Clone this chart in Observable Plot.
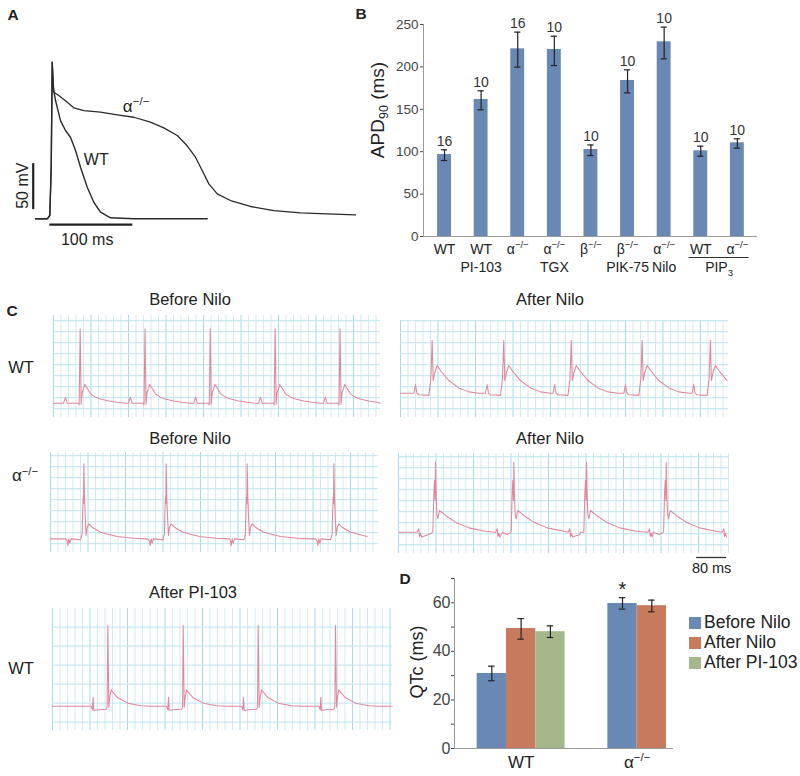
<!DOCTYPE html>
<html><head><meta charset="utf-8">
<script src="https://cdn.jsdelivr.net/npm/d3@7"></script>
<script src="https://cdn.jsdelivr.net/npm/@observablehq/plot@0.6"></script>
<style>
html,body{margin:0;padding:0;background:#fff;}
#fig{position:relative;width:800px;height:776px;overflow:hidden;font-family:"Liberation Sans",Arial,Helvetica,sans-serif;color:#222;background:#fff;}
.lbl{position:absolute;white-space:nowrap;line-height:1;transform:translate(-50%,-50%);}
.rot{transform:translate(-50%,-50%) rotate(-90deg);}
.sup{font-size:0.66em;position:relative;top:-0.55em;}
.sub{font-size:0.66em;position:relative;top:0.3em;}
.pane{position:absolute;}
.sw{position:absolute;width:12px;height:12px;}
</style></head><body><div id="fig"></div>
<script>
// ================= DATA =================
// Panel A: action potentials (time in ms from upstroke, membrane potential in mV)
const apTimeAlpha = [-17.2,-3.1,0,1.7,2.9,4.8,10.8,21.0,28.9,41.0,61.1,81.2,101.2,121.3,137.3,153.5,165.5,175.5,183.6,191.6,201.7,217.7,241.8,269.9,302.0,342.2,368.3];
const apVoltAlpha = [-80,-80,-76.4,-23.9,90.2,57.6,54.0,46.7,40.7,37.7,35.9,33.0,30.4,25.0,18.9,10.5,-0.6,-13.0,-27.5,-42.0,-52.8,-60.1,-66.6,-71.0,-73.5,-75.0,-75.7];
const apTimeWt = [-17.2,-3.1,0,1.7,2.9,4.1,6.9,12.9,18.9,24.9,31.0,37.0,45.1,53.0,61.1,73.1,101.2,189.6];
const apVoltWt = [-80,-80,-76.4,-23.9,90.2,63.0,48.6,26.8,16.0,8.7,-5.8,-23.9,-45.7,-62.0,-72.8,-78.9,-80,-80];
const apScaleMs = 100;
const apScaleMv = 50;

// Panel B: APD90 (ms)
const apdLine1 = ["WT","WT","α^{−/−}","α^{−/−}","β^{−/−}","β^{−/−}","α^{−/−}","WT","α^{−/−}"];
const apdLine2 = ["","PI-103","","TGX","","PIK-75","Nilo","",""];
const apdMean = [96.7,161.6,221.3,220.5,102.6,184.0,229.6,101.0,110.5];
const apdLow  = [89.6,149.4,199.7,201.6,95.5,169.4,209.5,94.7,104.2];
const apdHigh = [102.2,171.8,241.0,236.2,108.0,196.5,246.9,106.5,115.2];
const apdN = [16,10,16,10,10,10,10,10,10];
const apdPip3Label = "PIP_{3}";
const apdPip3Bars = [8, 9];

// Panel C: ECG beat shapes [ms from beat reference, units above baseline], beat times (ms), baselines
const ecgWtBeforeShape = [[-5.3,0],[0,0.55],[4.4,0],[33.8,0],[36.4,-0.15],[39.1,6.76],[41.8,-0.1],[44.4,1.0],[48,1.3],[51.6,1.7],[57,1.4],[66.7,0.85],[80,0.55],[93.3,0.39],[115,0.2],[137.8,0.09],[160,0]];
const ecgWtBeforeBeats = [32,205,379,552,725];
const ecgWtBeforeBase = 1.30;
const ecgWtAfterShape = [[-4.4,0],[0,0.79],[3.6,0],[8.9,-0.15],[35.6,-0.2],[40.9,1.3],[44.4,4.79],[47.1,1.15],[51.6,1.9],[57.8,2.52],[66.7,2.06],[88.9,1.15],[115.6,0.48],[142,0.12],[169,0]];
const ecgWtAfterBeats = [40,231,411,600,782];
const ecgWtAfterBase = 2.21;
const ecgKoBeforeShape = [[-48.9,0],[-44.4,-0.21],[-42.7,-0.61],[-40,0],[-37.3,-0.39],[-33.8,0],[-8.9,-0.09],[-4.4,0.45],[-3.6,2.1],[-1.8,3.8],[-0.9,3.2],[0,6.82],[1.8,3.8],[3.6,2.1],[6.2,0.3],[8.9,1.06],[13.3,1.36],[22.2,1.06],[44.4,0.6],[88.9,0.21],[133,0.06],[169,0]];
const ecgKoBeforeBeats = [88.9,308.4,524.4,755.6];
const ecgKoBeforeBase = 1.24;
const ecgKoAfterShape = [[-48.9,0],[-44.4,0.3],[-42.7,-0.39],[-40,-0.09],[-37.3,-0.45],[-17.8,-0.21],[-7.1,0],[-4.4,3.5],[-2.7,4.7],[-0.9,2.88],[0,6.36],[1.8,3.45],[3.6,1.67],[6.2,1.21],[10.7,1.97],[26.7,1.52],[53.3,0.91],[88.9,0.39],[133,0.09],[178,0]];
const ecgKoAfterBeats = [98.7,307.5,501.3,713.9,912];
const ecgKoAfterBase = 1.94;
const ecgPiShape = [[-44.4,0],[-40.9,-0.19],[-39.1,0.47],[-37.3,-0.23],[-26.7,-0.19],[-4.4,-0.16],[-1.8,-0.05],[0,4.25],[2.7,-0.05],[5.3,0.47],[8.9,0.86],[13.3,0.74],[26.7,0.44],[53.3,0.16],[88.9,0.02],[115.6,0]];
const ecgPiBeats = [147.5,348.5,548.5,754.7];
const ecgPiBase = 1.28;
const ecgScaleMs = 80;

// Panel D: QTc (ms)
const qtSeriesNames = ["Before Nilo","After Nilo","After PI-103"];
const qtGroupNames = ["WT","α^{−/−}"];
const qtGroup = ["WT","WT","WT","α^{−/−}","α^{−/−}"];
const qtSeries = ["Before Nilo","After Nilo","After PI-103","Before Nilo","After Nilo"];
const qtMean = [30.9,49.4,48.1,59.7,58.8];
const qtLow  = [27.9,45.0,45.7,57.4,56.3];
const qtHigh = [33.9,53.5,50.5,62.1,61.1];
const qtStar = ["","","","*",""];

// ================= RENDER =================
const FONT = '"Liberation Sans", Arial, Helvetica, sans-serif';
const fig = document.getElementById("fig");
const NS = "http://www.w3.org/2000/svg";

function place(node, left, top) {
  const d = document.createElement("div");
  d.className = "pane";
  d.style.left = left + "px"; d.style.top = top + "px";
  d.appendChild(node); fig.appendChild(d);
  richify(node);
  return d;
}
// turns "x^{sup}" / "x_{sub}" inside SVG texts into shifted tspans
function richify(root) {
  const found = [];
  const w = document.createTreeWalker(root, NodeFilter.SHOW_TEXT);
  while (w.nextNode()) if (/[\^_]\{/.test(w.currentNode.nodeValue)) found.push(w.currentNode);
  for (const tn of found) {
    const parent = tn.parentNode;
    const fs = parseFloat(getComputedStyle(parent).fontSize) || 12;
    const frag = document.createDocumentFragment();
    let shift = 0;
    for (const part of tn.nodeValue.split(/([\^_]\{[^}]*\})/)) {
      if (!part) continue;
      const m = part.match(/^([\^_])\{([^}]*)\}$/);
      const ts = document.createElementNS(NS, "tspan");
      const target = m ? (m[1] === "^" ? -0.42 * fs : 0.28 * fs) : 0;
      if (target !== shift) ts.setAttribute("dy", (target - shift).toFixed(2));
      shift = target;
      if (m) ts.setAttribute("font-size", (0.68 * fs).toFixed(2));
      ts.textContent = m ? m[2] : part;
      frag.appendChild(ts);
    }
    parent.replaceChild(frag, tn);
  }
}
function label(html, x, y, size, extra = "") {
  const d = document.createElement("div");
  d.className = "lbl " + extra;
  d.style.left = x + "px"; d.style.top = y + "px"; d.style.fontSize = size + "px";
  d.innerHTML = html; fig.appendChild(d);
}

// ---------- Panel A ----------
{
  const alpha = apTimeAlpha.map((t, i) => ({t, v: apVoltAlpha[i]}));
  const wt = apTimeWt.map((t, i) => ({t, v: apVoltWt[i]}));
  const svg = Plot.plot({
    width: 360, height: 260, margin: 0,
    x: {domain: [-59.4, 374.3], axis: null},
    y: {domain: [-125.3, 157.3], axis: null},
    style: {background: "transparent", fontFamily: FONT, fontSize: "16px", color: "#222", overflow: "visible"},
    marks: [
      Plot.line(alpha, {x: "t", y: "v", stroke: "#2a2a2a", strokeWidth: 1.3}),
      Plot.line(wt, {x: "t", y: "v", stroke: "#2a2a2a", strokeWidth: 1.4}),
      Plot.ruleX([-20], {y1: -70, y2: -70 + apScaleMv, stroke: "#222", strokeWidth: 2.2}),
      Plot.ruleY([-86.3], {x1: 0, x2: apScaleMs, stroke: "#222", strokeWidth: 2.2}),
      Plot.text([apScaleMv + " mV"], {x: -32, y: -44, rotate: -90, fontSize: 16, fill: "#222"}),
      Plot.text([apScaleMs + " ms"], {x: apScaleMs * 0.45, y: -102.5, fontSize: 16, fill: "#222"}),
      Plot.text(["WT"], {x: 56, y: -15.5, fontSize: 16, fill: "#222"}),
      Plot.text(["α^{−/−}"], {x: 104, y: 42, fontSize: 17, fill: "#222"})
    ]
  });
  place(svg, 0, 0);
}

// ---------- Panel B ----------
{
  const apd = apdMean.map((m, k) => ({i: k + 1, mean: m, low: apdLow[k], high: apdHigh[k], n: apdN[k], l1: apdLine1[k], l2: apdLine2[k]}));
  const hw = 0.19, cap = 0.085;
  const pipX = (apdPip3Bars[0] + apdPip3Bars[1]) / 2;
  const svg = Plot.plot({
    width: 440, height: 290, marginLeft: 63, marginRight: 43, marginTop: 24, marginBottom: 54,
    x: {domain: [0.426, 9.55], axis: null},
    y: {domain: [0, 250], ticks: 5, tickSize: 3, tickPadding: 2, label: null},
    style: {background: "transparent", fontFamily: FONT, fontSize: "13.5px", color: "#444", overflow: "visible"},
    marks: [
      Plot.rectY(apd, {x1: d => d.i - hw, x2: d => d.i + hw, y1: 0, y2: "mean", fill: "#6a88b4"}),
      Plot.ruleX([0.426], {y1: 0, y2: 250, stroke: "#9a9a9a"}),
      Plot.ruleY([0], {stroke: "#9a9a9a"}),
      Plot.ruleX(apd, {x: "i", y1: "low", y2: "high", stroke: "#222", strokeWidth: 1.2}),
      Plot.ruleY(apd, {y: "high", x1: d => d.i - cap, x2: d => d.i + cap, stroke: "#222", strokeWidth: 1.2}),
      Plot.ruleY(apd, {y: "low", x1: d => d.i - cap, x2: d => d.i + cap, stroke: "#222", strokeWidth: 1.2}),
      Plot.text(apd, {x: "i", y: "high", text: d => String(d.n), lineAnchor: "bottom", dy: -4, fontSize: 14, fill: "#333"}),
      Plot.text(apd, {x: "i", y: 0, text: "l1", dy: 13, fontSize: 14, fill: "#222"}),
      Plot.text(apd.filter(d => d.l2), {x: "i", y: 0, text: "l2", dy: 31, fontSize: 14, fill: "#222"}),
      Plot.ruleY([0], {x1: apdPip3Bars[0] - 0.32, x2: apdPip3Bars[1] + 0.32, dy: 21, stroke: "#333", strokeWidth: 1.1}),
      Plot.text([apdPip3Label], {x: pipX, y: 0, dy: 31, fontSize: 14, fill: "#222"})
    ]
  });
  place(svg, 360, 0);
}

// ---------- Panel C ----------
function buildTrace(shape, beats, base, tMax) {
  const pts = [{t: 0, v: base}];
  for (const b of beats) for (const [dt, dv] of shape) pts.push({t: b + dt, v: base + dv});
  const inside = pts.filter(p => p.t >= 0 && p.t <= tMax).sort((a, b) => a.t - b.t);
  const last = inside[inside.length - 1];
  if (Math.abs(last.v - base) < 0.12 && last.t < tMax - 5) inside.push({t: tMax - 1, v: base});
  return inside;
}
function ecg({left, top, w, h, unitPx, gridStart, shape, beats, base, scaleBar = false}) {
  const tMax = w / 0.375;
  const yMax = h / unitPx;
  const mb = scaleBar ? 26 : 0;
  const minor = d3.range(0, tMax + 0.01, 20).filter(t => t % 100 !== 0);
  const major = d3.range(0, tMax + 0.01, 100);
  const hor = d3.range(gridStart, yMax, 1);
  const extra = [];
  if (scaleBar) {
    const x2 = tMax - 5, x1 = x2 - ecgScaleMs;
    extra.push(Plot.ruleY([0], {x1, x2, dy: 4, stroke: "#333", strokeWidth: 1.3}));
    extra.push(Plot.text([ecgScaleMs + " ms"], {x: (x1 + x2) / 2, y: 0, dy: 15, fontSize: 14.5, fill: "#222"}));
  }
  const svg = Plot.plot({
    width: w, height: h + mb, marginTop: 0, marginLeft: 0, marginRight: 0, marginBottom: mb,
    x: {domain: [0, tMax], axis: null},
    y: {domain: [0, yMax], axis: null},
    style: {background: "transparent", fontFamily: FONT, overflow: "visible"},
    marks: [
      Plot.ruleX(minor, {stroke: "#cdebf6", strokeWidth: 1}),
      Plot.ruleX(major, {stroke: "#a6dbef", strokeWidth: 1}),
      Plot.ruleY(hor, {stroke: "#bde4f3", strokeWidth: 1}),
      Plot.line(buildTrace(shape, beats, base, tMax), {x: "t", y: "v", stroke: "#e2869c", strokeWidth: 1.05}),
      ...extra
    ]
  });
  place(svg, left, top);
}
ecg({left: 53, top: 315, w: 327, h: 102, unitPx: 11, gridStart: 0.8, shape: ecgWtBeforeShape, beats: ecgWtBeforeBeats, base: ecgWtBeforeBase});
ecg({left: 400, top: 320, w: 328, h: 97, unitPx: 11, gridStart: 0.8, shape: ecgWtAfterShape, beats: ecgWtAfterBeats, base: ecgWtAfterBase});
ecg({left: 50, top: 452, w: 328, h: 100, unitPx: 11, gridStart: 0.8, shape: ecgKoBeforeShape, beats: ecgKoBeforeBeats, base: ecgKoBeforeBase});
ecg({left: 398, top: 453, w: 330, h: 100, unitPx: 11, gridStart: 0.8, shape: ecgKoAfterShape, beats: ecgKoAfterBeats, base: ecgKoAfterBase, scaleBar: true});
ecg({left: 52, top: 608, w: 340, h: 122, unitPx: 19, gridStart: 0.44, shape: ecgPiShape, beats: ecgPiBeats, base: ecgPiBase});

// ---------- Panel D ----------
{
  const GROUP_STEP = 4.46, cap = 0.11;
  const qt = qtMean.map((m, k) => ({
    group: qtGroup[k], series: qtSeries[k], mean: m, low: qtLow[k], high: qtHigh[k], star: qtStar[k],
    pos: qtGroupNames.indexOf(qtGroup[k]) * GROUP_STEP + qtSeriesNames.indexOf(qtSeries[k])
  }));
  const groups = qtGroupNames.map(g => ({g, pos: d3.mean(qt.filter(d => d.group === g), d => d.pos)}));
  const x0 = -1.273;
  const colors = ["#6a88b4", "#c87a5c", "#a5b88b"];
  const svg = Plot.plot({
    width: 280, height: 216, marginLeft: 54, marginRight: 7, marginTop: 18, marginBottom: 28,
    x: {domain: [x0, 6.2], axis: null},
    y: {domain: [0, 70], ticks: 7, tickSize: 3, tickPadding: 1, label: null, tickFormat: d => d % 20 === 0 ? d : ""},
    color: {domain: qtSeriesNames, range: colors},
    style: {background: "transparent", fontFamily: FONT, fontSize: "16px", color: "#444", overflow: "visible"},
    marks: [
      Plot.rectY(qt, {x1: d => d.pos - 0.5, x2: d => d.pos + 0.5, y1: 0, y2: "mean", fill: "series"}),
      Plot.ruleX([x0], {y1: 0, y2: 70, stroke: "#9a9a9a"}),
      Plot.ruleY([0], {stroke: "#9a9a9a"}),
      Plot.ruleX(qt, {x: "pos", y1: "low", y2: "high", stroke: "#222", strokeWidth: 1.2}),
      Plot.ruleY(qt, {y: "high", x1: d => d.pos - cap, x2: d => d.pos + cap, stroke: "#222", strokeWidth: 1.2}),
      Plot.ruleY(qt, {y: "low", x1: d => d.pos - cap, x2: d => d.pos + cap, stroke: "#222", strokeWidth: 1.2}),
      Plot.text(qt.filter(d => d.star), {x: "pos", y: "high", text: "star", dy: -8, fontSize: 20, fill: "#222"}),
      Plot.text(groups, {x: "pos", y: 0, text: "g", dy: 14, fontSize: 17, fill: "#222"})
    ]
  });
  place(svg, 400, 560);
  qtSeriesNames.forEach((s, k) => {
    const y = 622.5 + k * 20;
    const sw = document.createElement("div");
    sw.className = "sw"; sw.style.left = "689px"; sw.style.top = (y - 6) + "px"; sw.style.background = colors[k];
    fig.appendChild(sw);
    const t = document.createElement("div");
    t.className = "lbl"; t.style.transform = "translate(0,-50%)";
    t.style.left = "704px"; t.style.top = y + "px"; t.style.fontSize = "17.5px"; t.textContent = s;
    fig.appendChild(t);
  });
}

// ---------- Labels ----------
label("<b>A</b>", 13, 15, 15.5);
label("<b>B</b>", 361, 14, 15.5);
label("<b>C</b>", 12, 311, 15.5);
label("<b>D</b>", 405, 579, 15.5);
label("Before Nilo", 190, 299, 16.5);
label("After Nilo", 550, 299, 16.5);
label("Before Nilo", 190, 438, 16.5);
label("After Nilo", 550, 438, 16.5);
label("After PI-103", 193, 592, 16.5);
label("WT", 21, 367, 16.5);
label("α<span class='sup'>−/−</span>", 25, 475, 17);
label("WT", 21, 668, 16.5);
label("APD<span class='sub'>90</span> (ms)", 377, 110, 19, "rot");
label("QTc (ms)", 417, 662, 18, "rot");
</script></body></html>
